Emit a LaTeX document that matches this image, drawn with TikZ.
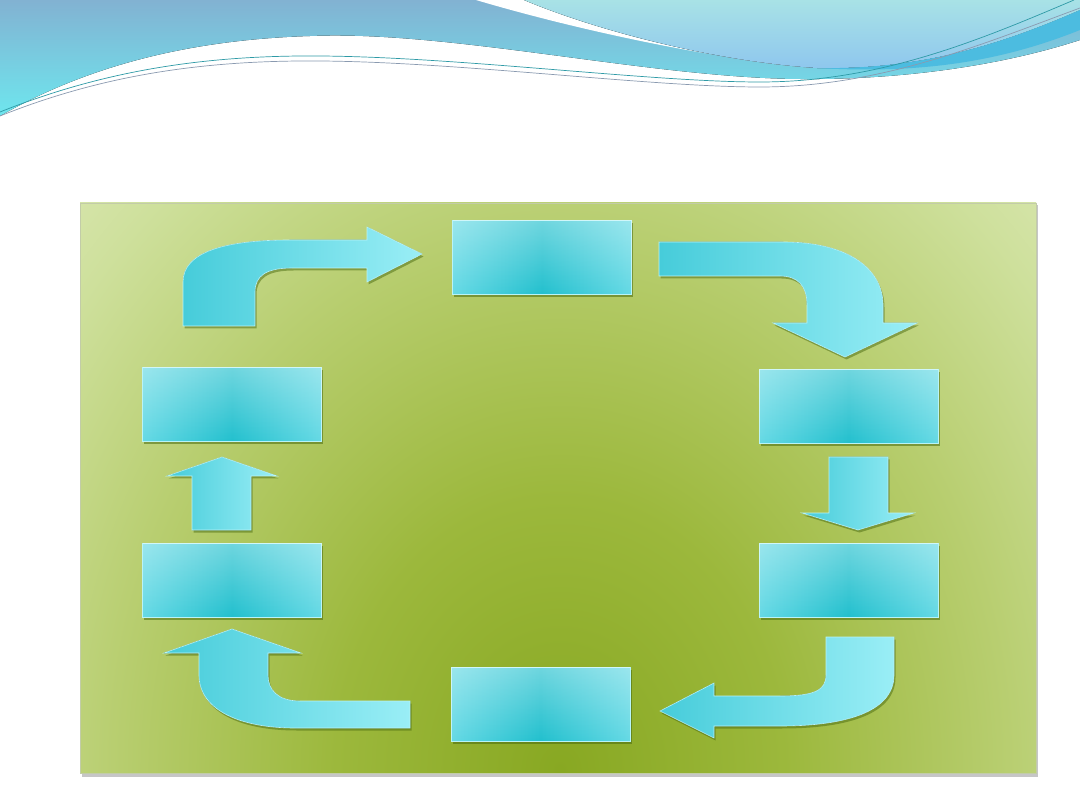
\documentclass[tikz,border=0pt]{standalone}
\usetikzlibrary{shadows,fadings}
\definecolor{hdrTop}{HTML}{82B2D2}
\definecolor{hdrBot}{HTML}{6EE6EE}
\definecolor{paleTop}{HTML}{A8E2E6}
\definecolor{paleBot}{HTML}{8EC6EE}
\definecolor{bandC}{HTML}{4CBCE0}
\definecolor{lineA}{HTML}{2E9AA6}
\definecolor{lineB}{HTML}{8A9AB0}
\definecolor{pC0}{HTML}{88A822}
\definecolor{pC1}{HTML}{9CB83C}
\definecolor{pC2}{HTML}{B8CE70}
\definecolor{pC3}{HTML}{CEE09C}
\definecolor{pC4}{HTML}{D8E6AE}
\definecolor{pBorder}{HTML}{C2CCA8}
\definecolor{boxLight}{HTML}{B4F4FA}
\definecolor{boxMid}{HTML}{5CD6E2}
\definecolor{boxDark}{HTML}{22C0CE}
\definecolor{arrA}{HTML}{46CCDA}
\definecolor{arrB}{HTML}{9AEEF6}
\definecolor{edgeC}{HTML}{B8F4F8}
\definecolor{shadowC}{HTML}{4A6A10}
\pgfdeclareradialshading{panelshade}{\pgfpoint{0bp}{0bp}}{color(0bp)=(pC0); color(8bp)=(pC1); color(16bp)=(pC2); color(22bp)=(pC3); color(25bp)=(pC4); color(50bp)=(pC4)}
\pgfdeclarehorizontalshading{boxshade}{100bp}{color(0bp)=(boxLight); color(28bp)=(boxMid); color(50bp)=(boxDark); color(72bp)=(boxMid); color(100bp)=(boxLight)}
\tikzset{
  cbox/.style={rectangle, minimum width=179pt, minimum height=74pt, inner sep=0pt,
    shading=boxshade, draw=edgeC, line width=0.8pt,
    drop shadow={shadow xshift=1.5pt, shadow yshift=-2.5pt, fill=shadowC, opacity=0.55},
    postaction={fill=white, opacity=0.35, path fading=south}},
  barrow/.style={left color=arrA, right color=arrB, draw=edgeC, line width=0.6pt,
    drop shadow={shadow xshift=1.5pt, shadow yshift=-2.5pt, fill=shadowC, opacity=0.5}}
}
\begin{document}
\begin{tikzpicture}[x=1pt,y=-1pt]
\useasboundingbox (0,0) rectangle (1080,810);
\fill[white] (0,0) rectangle (1080,810);
% header waves
\fill[top color=hdrTop, bottom color=hdrBot]
  (0,0) -- (1080,0) -- (1080,40) .. controls (1000,66) and (900,80) .. (800,79)
  .. controls (650,78) and (450,30) .. (310,36) .. controls (180,40) and (80,70) .. (0,116) -- cycle;
\fill[white] (476,0) -- (524,0) .. controls (600,32) and (720,62) .. (817,68)
  .. controls (700,58) and (560,25) .. (476,0) -- cycle;
\fill[top color=paleTop, bottom color=paleBot]
  (524,0) -- (1080,0) -- (1080,10) .. controls (1000,45) and (920,70) .. (817,68)
  .. controls (720,62) and (600,32) .. (524,0) -- cycle;
\fill[bandC] (817,68) .. controls (920,70) and (1000,45) .. (1080,10) -- (1080,30)
  .. controls (1000,62) and (920,74) .. (817,68) -- cycle;
\draw[lineA, line width=0.7pt] (0,112) .. controls (100,72) and (200,55) .. (320,56)
  .. controls (460,57) and (650,82) .. (760,82) .. controls (880,82) and (980,40) .. (1074,0);
\draw[lineB, line width=0.7pt] (0,116) .. controls (100,76) and (200,60) .. (320,61)
  .. controls (460,62) and (650,87) .. (760,87) .. controls (880,87) and (980,45) .. (1080,8);
% panel
\fill[gray!45] (82,205) rectangle (1038,777);
\begin{scope}
\clip (80,203) rectangle (1036,773);
\shade[shading=panelshade] (560,770) ellipse [x radius=700, y radius=850];
\end{scope}
\draw[pBorder, line width=0.8pt] (80,203) rectangle (1036,773);
% boxes
\node[cbox] (b1) at (542,257.5) {};
\node[cbox] (b2) at (848.5,406.5) {};
\node[cbox] (b3) at (848.5,580) {};
\node[cbox] (b4) at (540.5,704) {};
\node[cbox] (b5) at (232,580) {};
\node[cbox] (b6) at (232,404.5) {};
% arrows
\filldraw[barrow] (183,326) -- (183,282) .. controls (183,252) and (225,240) .. (290,240)
  -- (367,240) -- (367,227) -- (422,254) -- (367,282) -- (367,268) -- (292,268)
  .. controls (266,268) and (255,276) .. (255,292) -- (255,326) -- cycle;
\filldraw[barrow] (659,242) -- (783,242) .. controls (850,242) and (883,270) .. (883,305)
  -- (883,323) -- (917,323) -- (845,357) -- (773,323) -- (807,323) -- (807,305)
  .. controls (807,285) and (797,276) .. (780,276) -- (659,276) -- cycle;
\filldraw[barrow] (829,457) -- (888,457) -- (888,513) -- (914,513) -- (858,530)
  -- (802,513) -- (829,513) -- cycle;
\filldraw[barrow] (826,637) -- (894,637) -- (894,675) .. controls (894,710) and (850,726) .. (780,726)
  -- (714,726) -- (714,738) -- (660,711) -- (714,683) -- (714,696) -- (780,696)
  .. controls (815,696) and (826,690) .. (826,675) -- cycle;
\filldraw[barrow] (410,701) -- (300,701) .. controls (278,701) and (268,690) .. (268,675)
  -- (268,653) -- (301,653) -- (232,629) -- (164,653) -- (199,653) -- (199,675)
  .. controls (199,710) and (240,728) .. (295,728) -- (410,728) -- cycle;
\filldraw[barrow] (192,530) -- (192,476) -- (167,476) -- (222,457) -- (277,476)
  -- (251,476) -- (251,530) -- cycle;
\end{tikzpicture}
\end{document}
